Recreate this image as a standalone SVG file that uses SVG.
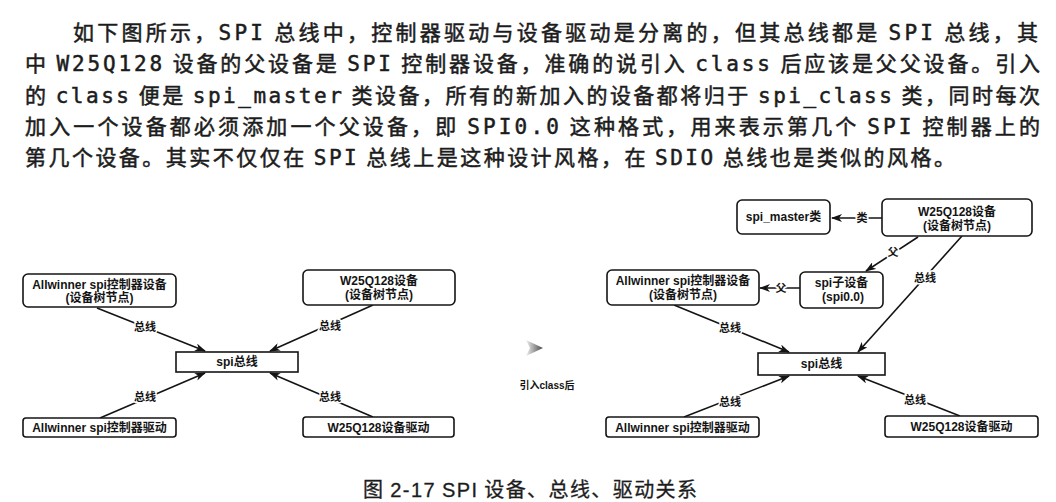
<svg xmlns="http://www.w3.org/2000/svg" width="1056" height="502" viewBox="0 0 1056 502">
<style>
.p{font-family:"Noto Sans CJK SC","Noto Sans",sans-serif;font-size:21px;fill:#1c1c1c;stroke:#1c1c1c;stroke-width:0.5px}
.m{font-family:"DejaVu Sans Mono","Liberation Mono",monospace;font-size:21px}
.cap{font-family:"Noto Sans CJK SC",sans-serif;font-size:20px;fill:#1c1c1c;stroke:#1c1c1c;stroke-width:0.3px}
.capm{font-family:"Liberation Sans","Noto Sans",sans-serif}
.box{fill:#fff;stroke:#141414;stroke-width:1.6}
.t{font-family:"Liberation Sans","Noto Sans CJK SC",sans-serif;font-size:12px;font-weight:bold;fill:#141414;text-anchor:middle}
.lb{font-family:"Liberation Sans","Noto Sans CJK SC",sans-serif;font-size:11px;font-weight:bold;fill:#141414;text-anchor:middle;paint-order:stroke;stroke:#fff;stroke-width:3px}
.ln{stroke:#141414;stroke-width:1.6;fill:none;marker-end:url(#ah)}
</style>
<defs>
<marker id="ah" markerWidth="11" markerHeight="8" refX="10" refY="4" orient="auto" markerUnits="userSpaceOnUse">
<path d="M0,0 L11,4 L0,8 L3,4 z" fill="#141414"/>
</marker>
<linearGradient id="g" x1="0" y1="0" x2="1" y2="0">
<stop offset="0" stop-color="#f0f0f0"/>
<stop offset="1" stop-color="#4a4a4a"/>
</linearGradient>
</defs>
<rect width="1056" height="502" fill="#fff"/>

<g id="paragraph">
<text class="p" x="73" y="40" textLength="965" lengthAdjust="spacing">如下图所示，<tspan class="m">SPI</tspan> 总线中，控制器驱动与设备驱动是分离的，但其总线都是 <tspan class="m">SPI</tspan> 总线，其</text>
<text class="p" x="25" y="71" textLength="1015" lengthAdjust="spacing">中 <tspan class="m">W25Q128</tspan> 设备的父设备是 <tspan class="m">SPI</tspan> 控制器设备，准确的说引入 <tspan class="m">class</tspan> 后应该是父父设备。引入</text>
<text class="p" x="25" y="103" textLength="1015" lengthAdjust="spacing">的 <tspan class="m">class</tspan> 便是 <tspan class="m">spi_master</tspan> 类设备，所有的新加入的设备都将归于 <tspan class="m">spi_class</tspan> 类，同时每次</text>
<text class="p" x="25" y="134" textLength="1015" lengthAdjust="spacing">加入一个设备都必须添加一个父设备，即 <tspan class="m">SPI0.0</tspan> 这种格式，用来表示第几个 <tspan class="m">SPI</tspan> 控制器上的</text>
<text class="p" x="25" y="165" textLength="930" lengthAdjust="spacing">第几个设备。其实不仅仅在 <tspan class="m">SPI</tspan> 总线上是这种设计风格，在 <tspan class="m">SDIO</tspan> 总线也是类似的风格。</text>
</g>

<g id="connectors">
<line class="ln" x1="97" y1="308" x2="205" y2="351"/>
<line class="ln" x1="373" y1="305" x2="270" y2="351"/>
<line class="ln" x1="100" y1="418" x2="205" y2="373"/>
<line class="ln" x1="373" y1="417" x2="270" y2="373"/>
<line class="ln" x1="882" y1="218" x2="832" y2="218"/>
<line class="ln" x1="918" y1="237" x2="866" y2="271"/>
<line class="ln" x1="962" y1="236" x2="858" y2="352"/>
<line class="ln" x1="800" y1="288" x2="760" y2="288"/>
<line class="ln" x1="674" y1="305" x2="789" y2="352"/>
<line class="ln" x1="684" y1="417" x2="789" y2="376"/>
<line class="ln" x1="960" y1="416" x2="858" y2="376"/>
<text class="lb" x="145" y="331">总线</text>
<text class="lb" x="330" y="330">总线</text>
<text class="lb" x="145" y="401">总线</text>
<text class="lb" x="330" y="401">总线</text>
<text class="lb" x="862" y="222">类</text>
<text class="lb" x="893" y="256">父</text>
<text class="lb" x="925" y="282">总线</text>
<text class="lb" x="781" y="292">父</text>
<text class="lb" x="730" y="332">总线</text>
<text class="lb" x="730" y="406">总线</text>
<text class="lb" x="915" y="404">总线</text>
</g>

<g id="L-ctrl-dev"><rect class="box" x="23" y="274" width="153" height="33" rx="5"/><text class="t" x="99.5" y="289">Allwinner spi控制器设备</text><text class="t" x="99.5" y="302">(设备树节点)</text></g>
<g id="L-w25-dev"><rect class="box" x="303" y="270" width="152" height="35" rx="5"/><text class="t" x="379" y="285">W25Q128设备</text><text class="t" x="379" y="299">(设备树节点)</text></g>
<g id="L-bus"><rect class="box" x="176" y="352" width="122" height="20"/><text class="t" x="237" y="366">spi总线</text></g>
<g id="L-ctrl-drv"><rect class="box" x="23" y="418" width="153" height="19" rx="3"/><text class="t" x="99.5" y="432">Allwinner spi控制器驱动</text></g>
<g id="L-w25-drv"><rect class="box" x="303" y="417" width="151" height="20" rx="3"/><text class="t" x="378.5" y="431.5">W25Q128设备驱动</text></g>

<g id="transition">
<polygon points="526,340 543,348 526,356 530,348" fill="url(#g)"/>
<text class="t" x="547" y="389" style="font-size:10px">引入class后</text>
</g>

<g id="R-master"><rect class="box" x="737" y="200" width="93" height="34" rx="5"/><text class="t" x="783.5" y="221">spi_master类</text></g>
<g id="R-w25-dev"><rect class="box" x="882" y="199" width="150" height="37" rx="5"/><text class="t" x="957" y="216">W25Q128设备</text><text class="t" x="957" y="230">(设备树节点)</text></g>
<g id="R-ctrl-dev"><rect class="box" x="607" y="270" width="152" height="35" rx="5"/><text class="t" x="683" y="285">Allwinner spi控制器设备</text><text class="t" x="683" y="299">(设备树节点)</text></g>
<g id="R-child"><rect class="box" x="800" y="272" width="83" height="36" rx="5"/><text class="t" x="841.5" y="287">spi子设备</text><text class="t" x="843" y="301">(spi0.0)</text></g>
<g id="R-bus"><rect class="box" x="758" y="353" width="127" height="22"/><text class="t" x="821.5" y="368">spi总线</text></g>
<g id="R-ctrl-drv"><rect class="box" x="606" y="417" width="153" height="20" rx="3"/><text class="t" x="682.5" y="431.5">Allwinner spi控制器驱动</text></g>
<g id="R-w25-drv"><rect class="box" x="885" y="416" width="153" height="21" rx="3"/><text class="t" x="961.5" y="431">W25Q128设备驱动</text></g>

<g id="caption">
<text class="cap" x="363" y="497" textLength="334" lengthAdjust="spacing">图 <tspan class="capm">2-17</tspan>  <tspan class="capm">SPI</tspan> 设备、总线、驱动关系</text>
</g>
</svg>
